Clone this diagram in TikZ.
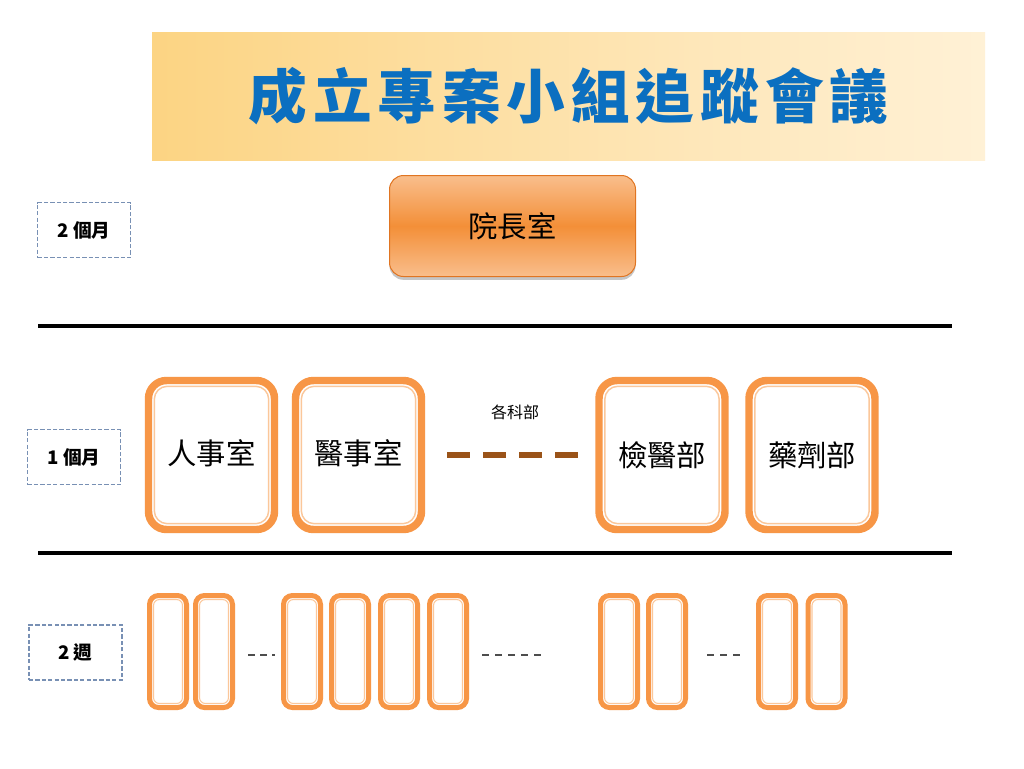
\documentclass[tikz,border=0pt]{standalone}
\usepackage{fontspec}
\setmainfont{Noto Sans CJK TC}
\usetikzlibrary{shadows}
\newdimen\pxu \pxu=0.75pt
\definecolor{bandA}{HTML}{FCD483}
\definecolor{bandB}{HTML}{FFF1D6}
\definecolor{titleblue}{HTML}{0B6FC0}
\definecolor{boxorange}{HTML}{F79646}
\definecolor{boxlight}{HTML}{FBC79A}
\definecolor{topA}{HTML}{F9BE8C}
\definecolor{topB}{HTML}{F38F38}
\definecolor{topedge}{HTML}{E07522}
\definecolor{labeledge}{HTML}{7890B4}
\definecolor{dashbrown}{HTML}{9A5318}
\definecolor{dashgray}{HTML}{4D4D4D}
\tikzset{
  band/.style={left color=bandA, right color=bandB, minimum width=833\pxu, minimum height=128\pxu, inner sep=0pt,
    text=titleblue, font=\bfseries\fontsize{44}{48}\selectfont\addfontfeatures{LetterSpace=10}},
  topbox/.style={draw=topedge, line width=0.75pt, rounded corners=14\pxu, top color=topA, bottom color=topA, middle color=topB,
    minimum width=246\pxu, minimum height=101\pxu, inner sep=0pt, drop shadow={shadow xshift=0pt, shadow yshift=-2.5pt, opacity=0.45},
    font=\fontsize{22}{24}\selectfont},
  unitbox/.style={draw=boxorange, line width=5.6pt, rounded corners=18\pxu, fill=white,
    minimum width=126\pxu, minimum height=149\pxu, inner sep=0pt, font=\fontsize{22}{24}\selectfont,
    path picture={\draw[boxlight, line width=1.1pt, rounded corners=13\pxu]
      ([shift={(5.8\pxu,-5.8\pxu)}]path picture bounding box.north west) rectangle
      ([shift={(-5.8\pxu,5.8\pxu)}]path picture bounding box.south east);}},
  weekbox/.style={draw=boxorange, line width=3.75pt, rounded corners=9\pxu, fill=white,
    minimum width=37\pxu, minimum height=112\pxu, inner sep=0pt,
    path picture={\draw[boxlight, line width=0.8pt, rounded corners=6\pxu]
      ([shift={(4\pxu,-4\pxu)}]path picture bounding box.north west) rectangle
      ([shift={(-4\pxu,4\pxu)}]path picture bounding box.south east);}},
  labelbox/.style={draw=labeledge, dash pattern=on 3.2pt off 1.6pt, line width=1pt,
    minimum width=93\pxu, minimum height=55\pxu, inner sep=0pt, font=\bfseries\fontsize{14}{16}\selectfont},
  sepline/.style={line width=3pt, black},
  browndash/.style={line width=5pt, dashbrown, dash pattern=on 23\pxu off 13\pxu},
  graydash/.style={line width=1.5pt, dashgray}
}
\newcommand{\uptxt}[1]{\raisebox{6\pxu}{#1}}
\begin{document}
\begin{tikzpicture}[x=0.75pt,y=-0.75pt]
\useasboundingbox (0,0) rectangle (1024,768);
\fill[white] (0,0) rectangle (1024,768);
% title band
\node[band] (title) at (568.5,96) {\raisebox{-4\pxu}{成立專案小組追蹤會議}};
% top box
\node[topbox] (yz) at (512.5,226) {院長室};
% time labels
\node[labelbox] (m2) at (84,230) {2 個月};
\node[labelbox] (m1) at (74,457) {1 個月};
\node[labelbox] (w2l) at (75.5,652.5) {2 週};
% separator lines
\coordinate (l1a) at (38,326); \coordinate (l1b) at (952,326);
\coordinate (l2a) at (38,553); \coordinate (l2b) at (952,553);
\draw[sepline] (l1a) -- (l1b);
\draw[sepline] (l2a) -- (l2b);
% unit boxes
\node[unitbox] (rs) at (211.5,455) {\uptxt{人事室}};
\node[unitbox] (ys) at (358.5,455) {\uptxt{醫事室}};
\node[unitbox] (jy) at (662,455) {檢醫部};
\node[unitbox] (yj) at (812,455) {藥劑部};
\node[font=\fontsize{12}{14}\selectfont] (gk) at (515,412) {各科部};
\draw[browndash] ([xshift=22\pxu]ys.east) -- ([xshift=-17\pxu]jy.west);
% week boxes
\node[weekbox] (w1) at (168,651.5) {};
\node[weekbox] (w2) at (214,651.5) {};
\node[weekbox] (w3) at (302,651.5) {};
\node[weekbox] (w4) at (350,651.5) {};
\node[weekbox] (w5) at (399,651.5) {};
\node[weekbox] (w6) at (448,651.5) {};
\node[weekbox] (w7) at (619,651.5) {};
\node[weekbox] (w8) at (667,651.5) {};
\node[weekbox] (w9) at (777,651.5) {};
\node[weekbox] (w10) at (826.5,651.5) {};
\draw[graydash, dash pattern=on 7\pxu off 5\pxu] ([xshift=13\pxu,yshift=-3\pxu]w2.east) -- ([xshift=-6\pxu,yshift=-3\pxu]w3.west);
\draw[graydash, dash pattern=on 7\pxu off 6\pxu] ([xshift=13\pxu,yshift=-3\pxu]w6.east) -- ([xshift=-57\pxu,yshift=-3\pxu]w7.west);
\draw[graydash, dash pattern=on 7\pxu off 6\pxu] ([xshift=19\pxu,yshift=-3\pxu]w8.east) -- ([xshift=-16\pxu,yshift=-3\pxu]w9.west);
\end{tikzpicture}
\end{document}
